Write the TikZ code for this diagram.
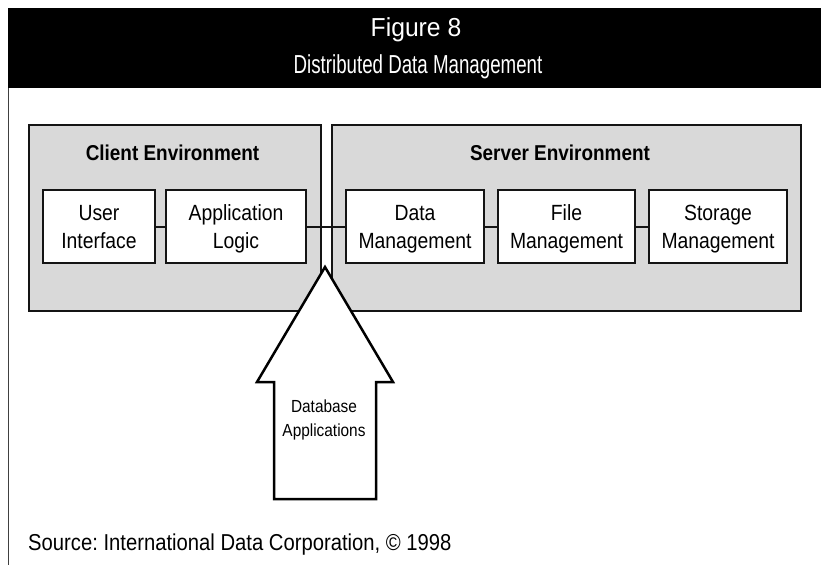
\documentclass[tikz,border=0pt]{standalone}
\usepackage{fontspec}
\setmainfont{Liberation Sans}[FakeStretch=0.88]
\newfontfamily\headwide{Liberation Sans}[FakeStretch=0.95]
\newfontfamily\headnarrow{Liberation Sans}[FakeStretch=0.72]
\definecolor{envgray}{RGB}{217,217,217}
\definecolor{inkline}{RGB}{20,20,20}
\frenchspacing
\begin{document}
\begin{tikzpicture}[x=1pt,y=-1pt,
  envbox/.style={draw=inkline, line width=2pt, fill=envgray, inner sep=0pt},
  modbox/.style={draw=inkline, line width=2pt, fill=white, inner sep=0pt,
    minimum height=73pt},
  modtext/.style={align=center, inner sep=0pt, font=\fontsize{22}{28}\selectfont},
  envlabel/.style={font=\fontsize{21.5}{25}\selectfont\bfseries, inner sep=0pt},
  link/.style={draw=inkline, line width=2pt},
  bigarrow/.style={draw=black, line width=2.5pt, fill=white, line join=miter},
]
\useasboundingbox (0,0) rectangle (821,565);

% heading band
\fill[black] (8,8) rectangle (821,88);
\node[text=white, anchor=base, inner sep=0pt, font=\headwide\fontsize{26}{30}\selectfont] (title)
  at (416,36) {Figure 8};
\node[text=white, anchor=base, inner sep=0pt, font=\headnarrow\fontsize{26}{30}\selectfont] (subtitle)
  at (418,73) {Distributed Data Management};

% left rule of the frame
\draw[line width=1pt, black!75] (8.5,88) -- (8.5,565);

% environments
\node[envbox, minimum width=292pt, minimum height=186pt] (client) at (175,218) {};
\node[envbox, minimum width=469pt, minimum height=186pt] (server) at (566.5,218) {};
\node[envlabel] (clientlbl) at (172.5,153) {Client Environment};
\node[envlabel] (serverlbl) at (560,153) {Server Environment};

% modules (struts keep every two-line label at the same height)
\node[modbox, minimum width=112pt] (ui) at (99,226.5) {};
\node[modbox, minimum width=140pt] (logic) at (236,226.5) {};
\node[modbox, minimum width=138pt] (data) at (415,226.5) {};
\node[modbox, minimum width=137pt] (file) at (566.5,226.5) {};
\node[modbox, minimum width=138pt] (storage) at (718,226.5) {};
\node[modtext] (uitxt) at ([yshift=-2pt]ui.center) {\strut User\\\strut Interface};
\node[modtext] (logictxt) at ([yshift=-2pt]logic.center) {\strut Application\\\strut Logic};
\node[modtext] (datatxt) at ([yshift=-2pt]data.center) {\strut Data\\\strut Management};
\node[modtext] (filetxt) at ([yshift=-2pt]file.center) {\strut File\\\strut Management};
\node[modtext] (storagetxt) at ([yshift=-2pt]storage.center) {\strut Storage\\\strut Management};

% links between modules
\draw[link] (ui.east) -- (logic.west);
\draw[link] (logic.east) -- (data.west);
\draw[link] (data.east) -- (file.west);
\draw[link] (file.east) -- (storage.west);

% block arrow pointing up into the gap
\draw[bigarrow] (325,267) -- (393,382) -- (376,382) -- (376,499) -- (274,499)
  -- (274,382) -- (257,382) -- cycle;
\node[align=center, inner sep=0pt, font=\fontsize{17.5}{24}\selectfont] (dbapps)
  at (324,420) {\strut Database\\\strut Applications};

% source line
\node[anchor=west, inner sep=0pt, font=\fontsize{23}{27}\selectfont] (source)
  at (28,545) {Source: International Data Corporation, © 1998};
\end{tikzpicture}
\end{document}
